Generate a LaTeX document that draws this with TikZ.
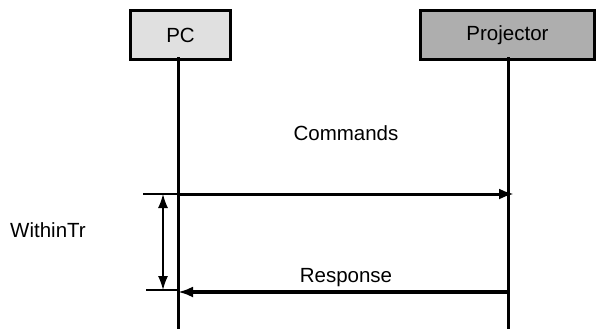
\documentclass[tikz,border=0pt]{standalone}
\usepackage{fontspec}
\setmainfont{Liberation Sans}
\usetikzlibrary{arrows.meta}
\definecolor{pcgray}{RGB}{224,224,224}
\definecolor{projgray}{RGB}{174,174,174}

\begin{document}
\begin{tikzpicture}[x=1pt,y=-1pt]
  \tikzset{every node/.style={font=\fontsize{20.5}{24}\selectfont},
    box/.style={draw,line width=3pt,minimum height=49pt,inner sep=0pt},
    msg/.style={line width=3pt,-{Latex[length=15pt,width=11pt]}},
    span/.style={line width=1.5pt,{Latex[length=14pt,width=10pt]}-{Latex[length=14pt,width=10pt]}}}
  \useasboundingbox (0,0) rectangle (596,329);
  \node[box,fill=pcgray,minimum width=100pt] (pc) at (180.5,35) {PC};
  \node[box,fill=projgray,minimum width=174pt] (proj) at (507.5,35) {Projector};
  \coordinate (pctop) at (178,57);
  \coordinate (pcbot) at (178,329);
  \coordinate (projtop) at (508,57);
  \coordinate (projbot) at (508,329);
  \draw[line width=3pt] (pctop) -- (pcbot);
  \draw[line width=3pt] (projtop) -- (projbot);
  \coordinate (cmdfrom) at (178,194);
  \coordinate (cmdto) at (514,194);
  \coordinate (resfrom) at (508,292);
  \coordinate (resto) at (178,292);
  \draw[msg] (cmdfrom) -- (cmdto);
  \draw[msg,line width=4pt] (resfrom) -- (resto);
  \coordinate (tickup) at (143,194);
  \coordinate (tickdn) at (146,290);
  \coordinate (tickdnend) at (178,290);
  \draw[line width=1.5pt] (tickup) -- (cmdfrom);
  \draw[line width=1.5pt] (tickdn) -- (tickdnend);
  \coordinate (spanup) at (163,194);
  \coordinate (spandn) at (163,290);
  \draw[span] (spanup) -- (spandn);
  \node (cmds) at (346,133) {Commands};
  \node (resp) at (346,278) {Response};
  \node (within) at (48,230) {WithinTr};
\end{tikzpicture}
\end{document}
